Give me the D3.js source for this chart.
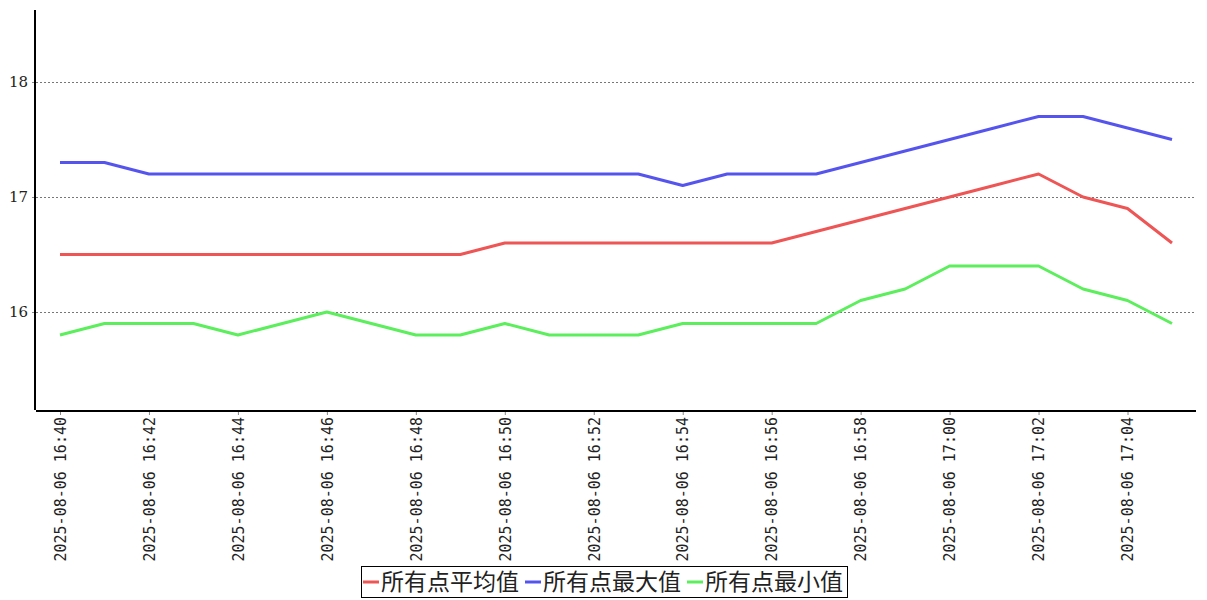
<!DOCTYPE html>
<html>
<head>
<meta charset="utf-8">
<script src="https://cdn.jsdelivr.net/npm/d3@7"></script>
<style>
  body { margin: 0; background: #fff; }
  svg { display: block; }
</style>
</head>
<body>
<svg width="1207" height="600"></svg>
<script>
var svg = d3.select("svg"),
    width = 1207,
    height = 600;

// minutes from 16:40 to 17:05
var times = ["16:40","16:41","16:42","16:43","16:44","16:45","16:46","16:47","16:48","16:49",
             "16:50","16:51","16:52","16:53","16:54","16:55","16:56","16:57","16:58","16:59",
             "17:00","17:01","17:02","17:03","17:04","17:05"];
var avgValues = [16.5,16.5,16.5,16.5,16.5,16.5,16.5,16.5,16.5,16.5,
                 16.6,16.6,16.6,16.6,16.6,16.6,16.6,16.7,16.8,16.9,
                 17.0,17.1,17.2,17.0,16.9,16.6];
var maxValues = [17.3,17.3,17.2,17.2,17.2,17.2,17.2,17.2,17.2,17.2,
                 17.2,17.2,17.2,17.2,17.1,17.2,17.2,17.2,17.3,17.4,
                 17.5,17.6,17.7,17.7,17.6,17.5];
var minValues = [15.8,15.9,15.9,15.9,15.8,15.9,16.0,15.9,15.8,15.8,
                 15.9,15.8,15.8,15.8,15.9,15.9,15.9,15.9,16.1,16.2,
                 16.4,16.4,16.4,16.2,16.1,15.9];
var seriesNames = ["所有点平均值", "所有点最大值", "所有点最小值"];
var seriesColors = ["#ee5555", "#5555ee", "#5cee5c"];
var yTicks = [16, 17, 18];
var datePrefix = "2025-08-06";

var parse = d3.timeParse("%Y-%m-%d %H:%M");
var dates = times.map(function(t) { return parse(datePrefix + " " + t); });

var x = d3.scaleTime()
    .domain([dates[0], dates[dates.length - 1]])
    .range([60, 1172]);

var y = d3.scaleLinear()
    .domain([15.139, 18.626])
    .range([411, 10]);

// grid
svg.append("g")
  .selectAll("line")
  .data(yTicks)
  .enter().append("line")
    .attr("x1", 36).attr("x2", 1195)
    .attr("y1", function(d) { return Math.round(y(d)) + 0.5; })
    .attr("y2", function(d) { return Math.round(y(d)) + 0.5; })
    .attr("stroke", "#777")
    .attr("stroke-width", 1)
    .attr("stroke-dasharray", "2,2");

// y axis
var yAxis = svg.append("g")
    .attr("transform", "translate(35,0)")
    .call(d3.axisLeft(y).tickValues(yTicks).tickSize(3).tickPadding(4).tickFormat(d3.format("d")));
yAxis.select(".domain").remove();
yAxis.selectAll(".tick line").attr("stroke", "#888");
yAxis.selectAll("text")
    .attr("font-family", "DejaVu Serif")
    .attr("font-size", 15)
    .attr("fill", "#222");
svg.append("line")
    .attr("x1", 35).attr("x2", 35)
    .attr("y1", 10).attr("y2", 410)
    .attr("stroke", "#000").attr("stroke-width", 2);

// x axis
var xTicks = dates.filter(function(d, i) { return i % 2 === 0 && i < 25; });
var xAxis = svg.append("g")
    .attr("transform", "translate(0,411)")
    .call(d3.axisBottom(x).tickValues(xTicks).tickSize(4).tickFormat(d3.timeFormat("%Y-%m-%d %H:%M")));
xAxis.select(".domain").remove();
xAxis.selectAll(".tick line").attr("stroke", "#888");
xAxis.selectAll("text")
    .attr("font-family", "DejaVu Sans Mono")
    .attr("font-size", 15)
    .attr("fill", "#222")
    .attr("text-anchor", "end")
    .attr("transform", "rotate(-90)")
    .attr("x", -6)
    .attr("y", 0)
    .attr("dy", "0.35em");
svg.append("line")
    .attr("x1", 36).attr("x2", 1196)
    .attr("y1", 411).attr("y2", 411)
    .attr("stroke", "#000").attr("stroke-width", 2);

// lines
var line = d3.line()
    .x(function(d, i) { return x(dates[i]); })
    .y(function(d) { return y(d); });

[avgValues, maxValues, minValues].forEach(function(vals, k) {
  svg.append("path")
    .datum(vals)
    .attr("fill", "none")
    .attr("stroke", seriesColors[k])
    .attr("stroke-width", 3)
    .attr("stroke-linejoin", "round")
    .attr("d", line);
});

// legend
var legend = svg.append("g");
var lx = 363, ly = 582;
seriesNames.forEach(function(name, k) {
  legend.append("line")
    .attr("x1", lx).attr("x2", lx + 16)
    .attr("y1", ly).attr("y2", ly)
    .attr("stroke", seriesColors[k]).attr("stroke-width", 3);
  var t = legend.append("text")
    .attr("x", lx + 18).attr("y", ly)
    .attr("dy", "0.36em")
    .attr("font-family", "Noto Sans CJK SC")
    .attr("font-size", 23)
    .attr("fill", "#222")
    .text(name);
  lx += 18 + t.node().getComputedTextLength() + 6;
});
legend.insert("rect", ":first-child")
    .attr("x", 361.5).attr("y", 566.5)
    .attr("width", lx - 6 + 4 - 361).attr("height", 31)
    .attr("fill", "#fff").attr("stroke", "#000").attr("stroke-width", 1);
</script>
</body>
</html>
